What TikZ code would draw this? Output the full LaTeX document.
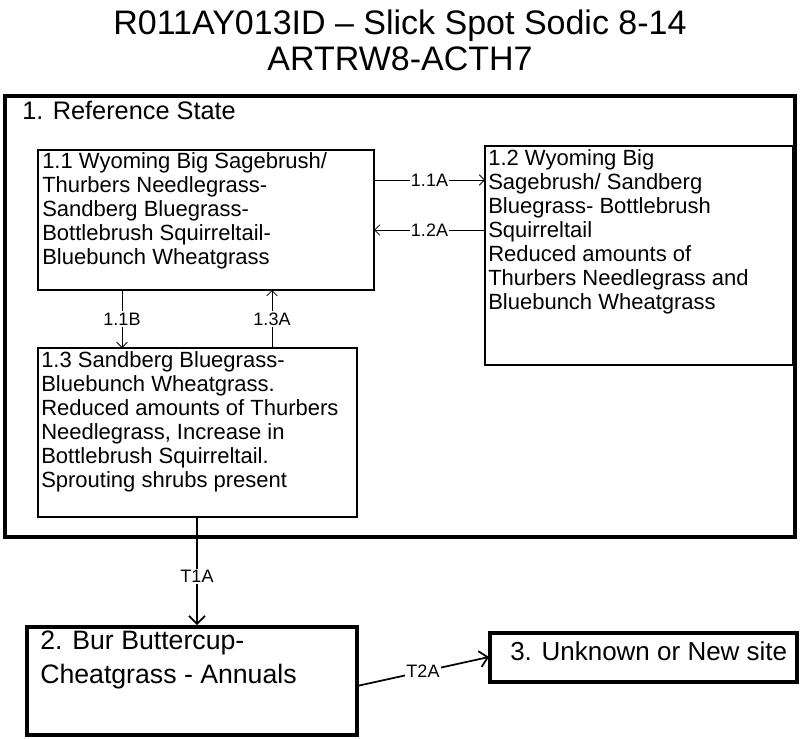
\documentclass[tikz,border=0pt]{standalone}
\usepackage{fontspec}
\setmainfont{Liberation Sans}
\usetikzlibrary{arrows.meta}
\begin{document}
\begin{tikzpicture}[x=0.75pt,y=-0.75pt,
  box/.style={draw,line width=0.9pt},
  tbox/.style={draw,line width=2.4pt},
  txt/.style={anchor=north west,align=left,font=\fontsize{16.5}{18}\selectfont,inner sep=0pt},
  arr/.style={-{Straight Barb[length=4pt]},line width=0.6pt},
  tarr/.style={-{Straight Barb[length=6pt]},line width=1.3pt},
  lab/.style={fill=white,inner sep=1pt,font=\fontsize{13.5}{15}\selectfont}]
\useasboundingbox (0,0) rectangle (800,739);
\node[font=\fontsize{25.5}{27}\selectfont,align=center] (title) at (400,40) {R011AY013ID -- Slick Spot Sodic 8-14\\ARTRW8-ACTH7};
\draw[tbox] (5,96) rectangle (795,537);
\node[txt,font=\fontsize{19}{22}\selectfont] (ref) at (22,101) {1. Reference State};
\draw[box] (38,150) rectangle (374,290);
\node[txt] (n11) at (42,152) {1.1 Wyoming Big Sagebrush/\\Thurbers Needlegrass-\\Sandberg Bluegrass-\\Bottlebrush Squirreltail-\\Bluebunch Wheatgrass};
\draw[box] (485,146) rectangle (793,365);
\node[txt] (n12) at (488,149) {1.2 Wyoming Big\\Sagebrush/ Sandberg\\Bluegrass- Bottlebrush\\Squirreltail\\Reduced amounts of\\Thurbers Needlegrass and\\Bluebunch Wheatgrass};
\draw[box] (38,348) rectangle (357,517);
\node[txt] (n13) at (41,351) {1.3 Sandberg Bluegrass-\\Bluebunch Wheatgrass.\\Reduced amounts of Thurbers\\Needlegrass, Increase in\\Bottlebrush Squirreltail.\\Sprouting shrubs present};
\coordinate (a1s) at (374,180); \coordinate (a1e) at (485,180);
\coordinate (a2s) at (485,230); \coordinate (a2e) at (374,230);
\draw[arr] (a1s) -- node[lab]{1.1A} (a1e);
\draw[arr] (a2s) -- node[lab]{1.2A} (a2e);
\coordinate (b1s) at (122,290); \coordinate (b1e) at (122,348);
\coordinate (c1s) at (272,348); \coordinate (c1e) at (272,290);
\draw[arr] (b1s) -- node[lab]{1.1B} (b1e);
\draw[arr] (c1s) -- node[lab]{1.3A} (c1e);
\draw[tbox] (27,627) rectangle (357,735);
\node[txt,font=\fontsize{20}{25}\selectfont] (n2) at (40,631) {2. Bur Buttercup-\\Cheatgrass - Annuals};
\draw[tbox] (490,633) rectangle (797,682);
\node[txt,font=\fontsize{19.5}{22}\selectfont] (n3) at (510,641) {3. Unknown or New site};
\coordinate (t1s) at (197,517); \coordinate (t1e) at (197,625);
\draw[tarr] (t1s) -- node[lab,pos=0.55]{T1A} (t1e);
\coordinate (t2s) at (357,686); \coordinate (t2e) at (489,657);
\draw[tarr] (t2s) -- node[lab,pos=0.5]{T2A} (t2e);
\end{tikzpicture}
\end{document}
